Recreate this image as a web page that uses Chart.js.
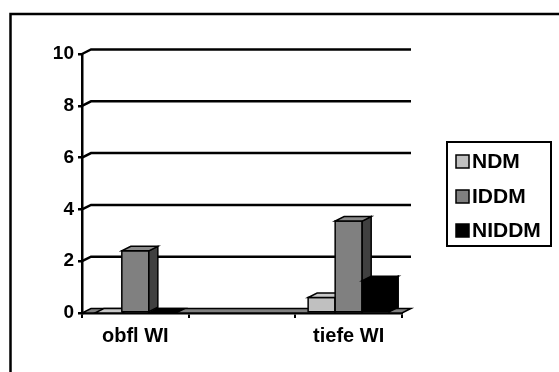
<!DOCTYPE html>
<html>
<head>
<meta charset="utf-8">
<script src="https://cdn.jsdelivr.net/npm/chart.js@4.4.1/dist/chart.umd.min.js"></script>
<style>
  html, body { margin: 0; padding: 0; background: #fff; }
  #chart { display: block; }
</style>
</head>
<body>
<canvas id="chart" width="559" height="372"></canvas>
<script>
// Kategorien und Werte
const categories = ['obfl WI', '', 'tiefe WI'];
const seriesNames = ['NDM', 'IDDM', 'NIDDM'];
const ndm = [0, null, 0.6];
const iddm = [2.4, null, 3.55];
const niddm = [0, null, 1.25];
const yTicks = [0, 2, 4, 6, 8, 10];

// Farben: Vorderseite, Oberseite, Seitenfläche
const frontColors = ['#c0c0c0', '#808080', '#000000'];
const topColors = ['#c8c8c8', '#8a8a8a', '#000000'];
const sideColors = ['#808080', '#404040', '#000000'];

// Tiefe des 3D-Effekts
const DX = 9;
const DY = 4.5;
const FONT = 'Liberation Sans, Arial, sans-serif';

function poly(ctx, pts, fill) {
    ctx.beginPath();
    ctx.moveTo(pts[0][0], pts[0][1]);
    for (let i = 1; i < pts.length; i++) ctx.lineTo(pts[i][0], pts[i][1]);
    ctx.closePath();
    if (fill) {
        ctx.fillStyle = fill;
        ctx.fill();
    }
    ctx.stroke();
}

// Rückwand-Gitter, Boden und 3D-Säulen
const pseudo3d = {
    id: 'pseudo3d',
    beforeDatasetsDraw(chart) {
        const ctx = chart.ctx;
        const area = chart.chartArea;
        const y = chart.scales.y;
        ctx.save();
        ctx.strokeStyle = '#000';
        ctx.lineJoin = 'miter';

        // Gitterlinien an der Rückwand
        ctx.lineWidth = 2.5;
        yTicks.forEach(v => {
            if (v === 0) return;
            const py = y.getPixelForValue(v);
            ctx.beginPath();
            ctx.moveTo(area.left, py);
            ctx.lineTo(area.left + DX, py - DY);
            ctx.lineTo(area.right + DX, py - DY);
            ctx.stroke();
        });

        // Boden
        const by = y.getPixelForValue(0);
        ctx.lineWidth = 1.5;
        poly(ctx, [[area.left, by], [area.right, by], [area.right + DX, by - DY], [area.left + DX, by - DY]], '#808080');

        // Säulen in Reihenfolge der Datensätze, links nach rechts
        chart.data.datasets.forEach((ds, di) => {
            const meta = chart.getDatasetMeta(di);
            meta.data.forEach((bar, i) => {
                if (ds.data[i] === null) return;
                const x0 = bar.x - bar.width / 2;
                const x1 = bar.x + bar.width / 2;
                const top = bar.y;
                const base = bar.base;
                ctx.lineWidth = 1.5;
                if (base - top > 0.5) {
                    poly(ctx, [[x0, top], [x1, top], [x1, base], [x0, base]], frontColors[di]);
                    poly(ctx, [[x1, top], [x1 + DX, top - DY], [x1 + DX, base - DY], [x1, base]], sideColors[di]);
                }
                poly(ctx, [[x0, top], [x1, top], [x1 + DX, top - DY], [x0 + DX, top - DY]], topColors[di]);
            });
        });
        ctx.restore();
        return false;
    },
    afterDraw(chart) {
        const ctx = chart.ctx;
        ctx.save();
        // Rahmen um das Diagramm
        ctx.strokeStyle = '#000';
        ctx.lineWidth = 2.5;
        ctx.strokeRect(10.5, 14, 600, 400);

        // Legende
        ctx.lineWidth = 2;
        ctx.strokeRect(447, 142, 104, 104);
        ctx.font = 'bold 21px ' + FONT;
        ctx.textBaseline = 'middle';
        ctx.textAlign = 'left';
        const rows = [161, 196, 230];
        chart.data.datasets.forEach((ds, di) => {
            const ry = rows[di];
            ctx.fillStyle = frontColors[di];
            ctx.fillRect(456, ry - 6, 13, 13);
            ctx.lineWidth = 1.5;
            ctx.strokeRect(456, ry - 6, 13, 13);
            ctx.fillStyle = '#000';
            ctx.fillText(ds.label, 472, ry + 1);
        });
        ctx.restore();
    }
};

new Chart(document.getElementById('chart'), {
    type: 'bar',
    data: {
        labels: categories,
        datasets: [
            { label: seriesNames[0], data: ndm, backgroundColor: frontColors[0] },
            { label: seriesNames[1], data: iddm, backgroundColor: frontColors[1] },
            { label: seriesNames[2], data: niddm, backgroundColor: frontColors[2] }
        ]
    },
    options: {
        responsive: false,
        devicePixelRatio: 1,
        animation: false,
        layout: { padding: { left: 10, top: 54, right: 157, bottom: 0 } },
        datasets: { bar: { categoryPercentage: 0.76, barPercentage: 1 } },
        plugins: { legend: { display: false }, tooltip: { enabled: false } },
        scales: {
            x: {
                afterFit(scale) { scale.height = 59; },
                grid: { offset: true, drawOnChartArea: false, tickLength: 5, color: '#000', lineWidth: 2 },
                border: { color: '#000', width: 2.5 },
                ticks: { color: '#000', padding: 6, font: { family: FONT, size: 20, weight: 'bold' } }
            },
            y: {
                min: 0,
                max: 10,
                afterFit(scale) { scale.width = 72; },
                afterBuildTicks(scale) { scale.ticks = yTicks.map(v => ({ value: v })); },
                grid: { drawOnChartArea: false, tickLength: 4, color: '#000', lineWidth: 2.5 },
                border: { color: '#000', width: 2.5 },
                ticks: { color: '#000', padding: 4, font: { family: FONT, size: 19, weight: 'bold' } }
            }
        }
    },
    plugins: [pseudo3d]
});
</script>
</body>
</html>
